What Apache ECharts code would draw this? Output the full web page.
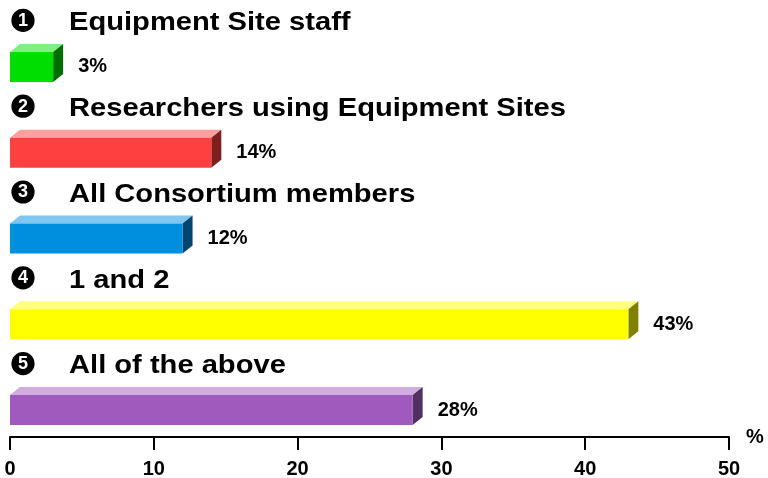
<!DOCTYPE html>
<html lang="en">
<head>
    <meta charset="UTF-8">
    <script src="https://cdn.jsdelivr.net/npm/echarts@6/dist/echarts.min.js"></script>
    <title>Chart</title>
    <style>
        html, body { margin: 0; padding: 0; background: #fff; }
        #main { width: 768px; height: 478px; }
    </style>
</head>
<body>
    <div id="main"></div>
<script>
    var categories = ['Equipment Site staff', 'Researchers using Equipment Sites', 'All Consortium members', '1 and 2', 'All of the above'];
    var values = [3, 14, 12, 43, 28];
    var xTicks = [0, 10, 20, 30, 40, 50];

    // front / top / side colours for each bar
    var palette = [
        ['#00dd00', '#80ee80', '#006e00'],
        ['#ff4040', '#ff9f9f', '#7f2020'],
        ['#008fdf', '#7fc7ef', '#004770'],
        ['#ffff00', '#ffff80', '#808000'],
        ['#a05abe', '#d0ace0', '#50305f']
    ];

    var FONT = '"Liberation Sans", Arial, sans-serif';
    var DX = 10, DY = 8;

    function renderBar(params, api) {
        var v = api.value(0);
        var idx = api.value(1);
        var p0 = api.coord([0, idx]);
        var p1 = api.coord([v, idx]);
        var cy = p0[1];
        var x0 = p0[0], x1 = p1[0];
        var ft = cy + 1, fb = cy + 31;
        var c = palette[idx];
        return {
            type: 'group',
            children: [
                { type: 'circle', shape: { cx: 23, cy: cy - 30.5, r: 11.6 }, style: { fill: '#000' } },
                { type: 'text', x: 23, y: cy - 30, style: { text: String(idx + 1), fill: '#fff', font: 'bold 18px ' + FONT, align: 'center', verticalAlign: 'middle' } },
                { type: 'text', x: 69, y: cy - 27.5, scaleX: 1.165, style: { text: categories[idx], fill: '#000', font: 'bold 25px ' + FONT, align: 'left', verticalAlign: 'middle' } },
                { type: 'polygon', shape: { points: [[x0, ft], [x1, ft], [x1 + DX, ft - DY], [x0 + DX, ft - DY]] }, style: { fill: c[1] } },
                { type: 'polygon', shape: { points: [[x1, ft], [x1 + DX, ft - DY], [x1 + DX, fb - DY], [x1, fb]] }, style: { fill: c[2] } },
                { type: 'rect', shape: { x: x0, y: ft, width: x1 - x0, height: fb - ft }, style: { fill: c[0] } },
                { type: 'text', x: x1 + 25, y: (ft + fb) / 2, style: { text: v + '%', fill: '#000', font: 'bold 20px ' + FONT, align: 'left', verticalAlign: 'middle' } }
            ]
        };
    }

    var myChart = echarts.init(document.getElementById('main'));
    myChart.setOption({
        animation: false,
        grid: { left: 10, right: 39, top: 8, bottom: 41, outerBoundsMode: 'none' },
        xAxis: {
            type: 'value',
            min: xTicks[0],
            max: xTicks[xTicks.length - 1],
            interval: 10,
            name: '%',
            nameLocation: 'end',
            nameGap: 17,
            nameTextStyle: { color: '#000', fontWeight: 'bold', fontSize: 20, fontFamily: FONT },
            axisLine: { show: true, onZero: false, lineStyle: { color: '#000', width: 2 } },
            axisTick: { show: true, inside: false, length: 13, lineStyle: { color: '#000', width: 2 } },
            axisLabel: { color: '#000', fontWeight: 'bold', fontSize: 20, fontFamily: FONT, margin: 22 },
            splitLine: { show: false }
        },
        yAxis: {
            type: 'category',
            data: categories,
            inverse: true,
            show: false
        },
        series: [{
            type: 'custom',
            renderItem: renderBar,
            encode: { x: 0, y: 1 },
            data: values.map(function (v, i) { return [v, i]; })
        }]
    });
</script>
</body>
</html>
